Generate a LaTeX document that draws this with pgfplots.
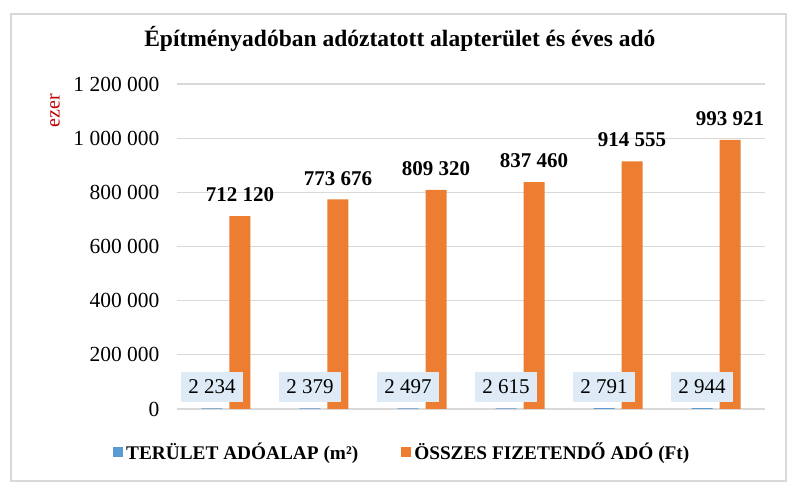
\documentclass[border=0pt]{standalone}
\usepackage{fontspec}
\setmainfont{Liberation Serif}
\usepackage{pgfplots}
\pgfplotsset{compat=1.18}
\definecolor{cblue}{HTML}{5B9BD5}
\definecolor{corange}{HTML}{ED7D31}
\definecolor{cbox}{HTML}{DEEBF7}
\definecolor{cgrid}{HTML}{D9D9D9}
\definecolor{cred}{HTML}{C00000}
\begin{document}
\begin{tikzpicture}
\begin{axis}[
  at={(0pt,0pt)}, anchor=south west,
  scale only axis, width=588pt, height=325pt,
  ybar=7pt, bar width=21pt,
  xmin=-0.5, xmax=5.5, ymin=0, ymax=1200000,
  xtick=\empty,
  ytick={0,200000,400000,600000,800000,1000000,1200000},
  scaled y ticks=false,
  /pgf/number format/.cd, fixed, precision=0, 1000 sep={\ }, assume math mode=true, /pgfplots/.cd,
  ymajorgrids, grid style={cgrid, line width=1.3pt},
  axis line style={draw=none},
  major tick length=0pt,
  tick label style={font=\fontsize{21.5}{25}\selectfont},
  yticklabel style={xshift=-14pt},
  title={Építményadóban adóztatott alapterület és éves adó},
  title style={at={(rel axis cs:0.379,1)}, anchor=center, yshift=39pt, font=\bfseries\fontsize{23.5}{28}\selectfont},
  ylabel={ezer},
  ylabel style={at={(rel axis cs:0,0.917)}, anchor=center, yshift=122pt, text=cred, font=\fontsize{20}{24}\selectfont},
  legend style={at={(rel axis cs:0.384,-0.132)}, anchor=center, draw=none, fill=none, legend columns=2,
    font=\bfseries\fontsize{19.3}{23}\selectfont, nodes={inner xsep=3pt},
    /tikz/every even column/.append style={column sep=40pt}},
  legend image code/.code={\fill[#1] (0pt,-5pt) rectangle (10pt,5pt);},
]
\addplot[fill=cblue, draw=none,
  nodes near coords={\pgfmathprintnumber{\pgfplotspointmeta}},
  every node near coord/.append style={fill=cbox, inner xsep=7pt, inner ysep=8pt, anchor=south, yshift=6pt, font=\fontsize{21}{25}\selectfont, text=black}]
  coordinates {(0,2234) (1,2379) (2,2497) (3,2615) (4,2791) (5,2944)};
\addlegendentry{TERÜLET ADÓALAP (m²)}
\addplot[fill=corange, draw=none,
  nodes near coords={\pgfmathprintnumber{\pgfplotspointmeta}},
  every node near coord/.append style={inner sep=0pt, anchor=south, yshift=14pt, font=\bfseries\fontsize{21}{25}\selectfont, text=black}]
  coordinates {(0,712120) (1,773676) (2,809320) (3,837460) (4,914555) (5,993921)};
\addlegendentry{ÖSSZES FIZETENDŐ ADÓ (Ft)}
\end{axis}
\draw[cgrid, line width=1.3pt] (-166pt,-72pt) rectangle (609pt,395pt);
\pgfresetboundingbox
\path[use as bounding box] (-177pt,-75pt) rectangle (610pt,409pt);
\end{tikzpicture}
\end{document}
